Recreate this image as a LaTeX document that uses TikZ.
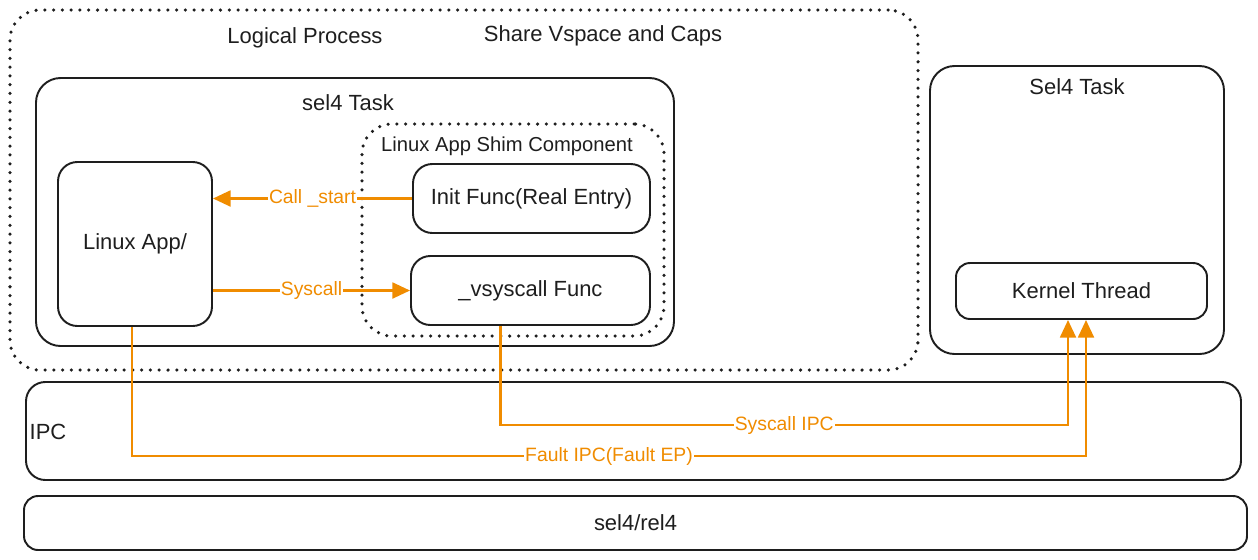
\documentclass[tikz,border=0pt]{standalone}
\usepackage{fontspec}
\setmainfont{Liberation Sans}
\usetikzlibrary{arrows.meta}
\definecolor{ipcorange}{HTML}{F08C00}
\definecolor{inkline}{HTML}{1E1E1E}
\newdimen\px
\px=0.02cm
\begin{document}
\begin{tikzpicture}[x=0.02cm,y=-0.02cm,
	box/.style={draw=inkline, line width=1.1pt, rounded corners=11pt, inner sep=0pt, font=\fontsize{12.5}{15}\selectfont, text=inkline},
	bigbox/.style={box, rounded corners=14pt},
	dotbox/.style={draw=inkline, line width=2pt, line cap=round, dash pattern=on 0pt off 5pt, rounded corners=17pt, inner sep=0pt},
	title/.style={font=\fontsize{12.5}{15}\selectfont, text=inkline},
	flow/.style={draw=ipcorange, line width=1.4pt, -{Triangle[length=10pt,width=9pt]}},
	flowtag/.style={font=\fontsize{11}{13}\selectfont, text=ipcorange, fill=white, inner sep=0.5pt}]
	\useasboundingbox (0,0) rectangle (1258,559);
	
	% logical process
	\node[dotbox, minimum width=908\px, minimum height=360\px] (proc) at (464,190) {};
	\node[title] (proctitle) at (305,38) {Logical Process};
	\node[title] (share) at (603,36) {Share Vspace and Caps};
	
	% sel4 task (app side)
	\node[bigbox, minimum width=638\px, minimum height=268\px] (task) at (355,212) {};
	\node[title] (tasktitle) at (348,103) {sel4 Task};
	\node[box, minimum width=154\px, minimum height=164\px] (app) at (135,244) {Linux App/};
	
	% shim component
	\node[dotbox, minimum width=302\px, minimum height=212\px] (shim) at (513,230) {};
	\node[title, font=\fontsize{11.5}{14}\selectfont] (shimtitle) at (507,146) {Linux App Shim Component};
	\node[box, minimum width=237\px, minimum height=69\px] (init) at (531.5,198.5) {Init Func(Real Entry)};
	\node[box, minimum width=239\px, minimum height=69\px] (vsys) at (530.5,290.5) {\_vsyscall Func};
	
	% sel4 task (kernel side)
	\node[bigbox, minimum width=294\px, minimum height=288\px] (ktask) at (1077,210) {};
	\node[title] (ktasktitle) at (1077,87) {Sel4 Task};
	\node[box, rounded corners=8pt, minimum width=251\px, minimum height=56\px] (kernel) at (1081.5,291) {Kernel Thread};
	
	% ipc and kernel layers
	\node[box, minimum width=1215\px, minimum height=98\px] (ipc) at (633.5,431) {};
	\node[title] (ipctitle) at (48,432) {IPC};
	\node[box, rounded corners=8pt, minimum width=1223\px, minimum height=54\px] (rel) at (635.5,523) {sel4/rel4};
	
	\coordinate (sysdrop) at ([xshift=-30\px]vsys.south);
	\coordinate (sysup) at ([xshift=-13.5\px]kernel.south);
	\coordinate (faultdrop) at ([xshift=-3\px]app.south);
	\coordinate (faultup) at ([xshift=4.5\px]kernel.south);
	
	\draw[flow] (init.west) -- node[flowtag]{Call \_start} (app.east |- init.west);
	\draw[flow] (app.east |- vsys.west) -- node[flowtag]{Syscall} (vsys.west);
	\draw[flow] (sysdrop) -- (sysdrop |- 0,425) -- node[flowtag]{Syscall IPC} (sysup |- 0,425) -- (sysup);
	\draw[flow] (faultdrop) -- (faultdrop |- 0,456) -- node[flowtag]{Fault IPC(Fault EP)} (faultup |- 0,456) -- (faultup);
\end{tikzpicture}
\end{document}
